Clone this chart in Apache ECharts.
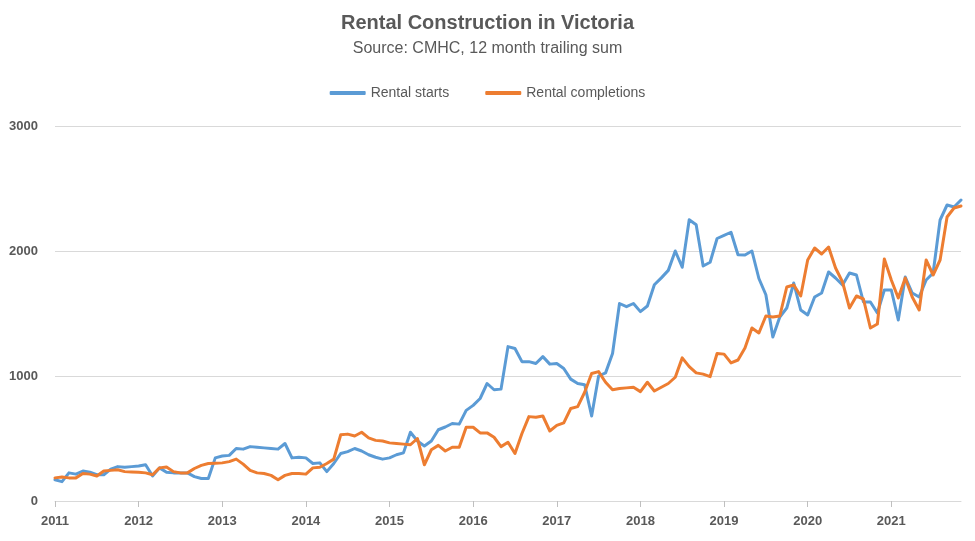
<!DOCTYPE html>
<html>
<head>
<meta charset="utf-8">
<script src="https://cdn.jsdelivr.net/npm/echarts@6/dist/echarts.min.js"></script>
<style>
html,body{margin:0;padding:0;background:#fff;}
#chart{width:975px;height:541px;}
</style>
</head>
<body>
<div id="chart"></div>
<script>
const years = ['2011','2012','2013','2014','2015','2016','2017','2018','2019','2020','2021'];
const monthNames = ['01','02','03','04','05','06','07','08','09','10','11','12'];

const rentalStarts = [
  170, 155, 225, 215, 240, 230, 210, 210, 255, 275, 270, 275,
  280, 290, 200, 265, 230, 225, 225, 225, 195, 180, 180, 345,
  360, 365, 420, 415, 435, 430, 425, 420, 415, 460, 345, 350,
  345, 300, 305, 235, 300, 380, 395, 420, 400, 370, 350, 335,
  345, 370, 385, 550, 480, 440, 480, 570, 592, 620, 615, 725,
  765, 820, 940, 890, 895, 1235, 1220, 1115, 1115, 1100, 1155, 1095,
  1100, 1060, 975, 940, 930, 680, 1000, 1025, 1180, 1580, 1555, 1580,
  1515, 1560, 1730, 1785, 1845, 2000, 1870, 2250, 2210, 1880, 1910, 2100,
  2125, 2150, 1970, 1968, 2000, 1780, 1650, 1312, 1472, 1544, 1744, 1528,
  1488, 1632, 1664, 1832, 1784, 1728, 1824, 1808, 1592, 1592, 1504, 1688,
  1688, 1448, 1792, 1664, 1632, 1768, 1824, 2248, 2368, 2352, 2408
];

const rentalCompletions = [
  185, 192, 185, 185, 220, 215, 200, 240, 245, 250, 235, 232,
  230, 225, 210, 265, 272, 235, 225, 225, 260, 285, 300, 302,
  305, 315, 335, 295, 245, 225, 220, 205, 170, 205, 220, 220,
  215, 265, 270, 300, 335, 530, 535, 520, 550, 505, 485, 480,
  465, 460, 455, 450, 500, 290, 410, 445, 400, 430, 430, 590,
  590, 545, 545, 510, 435, 470, 380, 540, 675, 670, 680, 560,
  605, 625, 740, 755, 870, 1020, 1035, 950, 890, 900, 905, 910,
  875, 950, 880, 910, 940, 990, 1145, 1075, 1025, 1015, 995, 1180,
  1175, 1105, 1128, 1224, 1384, 1344, 1480, 1472, 1480, 1712, 1728, 1640,
  1928, 2024, 1976, 2032, 1864, 1752, 1544, 1640, 1616, 1384, 1416, 1936,
  1768, 1624, 1784, 1632, 1528, 1928, 1808, 1928, 2272, 2344, 2360
];

const categories = [];
for (const y of years) for (const m of monthNames) categories.push(y + '-' + m);
categories.length = rentalStarts.length;

const seriesNames = ['Rental starts', 'Rental completions'];
const colors = ['#5B9BD5', '#ED7D31'];

const chart = echarts.init(document.getElementById('chart'), null, {renderer: 'canvas'});
const fontFam = '"Liberation Sans", Arial, sans-serif';
chart.setOption({
  animation: false,
  backgroundColor: '#ffffff',
  color: colors,
  title: {
    text: 'Rental Construction in Victoria',
    subtext: 'Source: CMHC, 12 month trailing sum',
    left: 'center',
    top: 8,
    itemGap: 8,
    textStyle: {fontFamily: fontFam, fontSize: 20, fontWeight: 'bold', color: '#595959'},
    subtextStyle: {fontFamily: fontFam, fontSize: 16, color: '#595959'}
  },
  legend: {
    data: seriesNames,
    top: 81,
    left: 'center',
    icon: 'roundRect',
    itemWidth: 36,
    itemHeight: 4,
    itemGap: 36,
    textStyle: {fontFamily: fontFam, fontSize: 14, color: '#595959'}
  },
  grid: {left: 55, right: 14, top: 126, bottom: 40, containLabel: false},
  xAxis: {
    type: 'category',
    data: categories,
    boundaryGap: false,
    axisLine: {lineStyle: {color: '#D9D9D9', width: 1}},
    axisTick: {show: true, length: 6, interval: (i) => i % 12 === 0, lineStyle: {color: '#BFBFBF'}},
    axisLabel: {
      interval: (i) => i % 12 === 0,
      formatter: (v) => v.slice(0, 4),
      color: '#595959', fontFamily: fontFam, fontSize: 13, fontWeight: 'bold', margin: 14
    },
    splitLine: {show: false}
  },
  yAxis: {
    type: 'value',
    min: 0, max: 3000, interval: 1000,
    axisLine: {show: false},
    axisTick: {show: false},
    axisLabel: {
      formatter: (v) => String(v),
      color: '#595959', fontFamily: fontFam, fontSize: 13, fontWeight: 'bold', margin: 17
    },
    splitLine: {lineStyle: {color: '#D9D9D9', width: 1}}
  },
  series: [
    {
      name: seriesNames[0], type: 'line', data: rentalStarts,
      showSymbol: false, symbol: 'none',
      lineStyle: {width: 3, color: colors[0], cap: 'round', join: 'round'}
    },
    {
      name: seriesNames[1], type: 'line', data: rentalCompletions,
      showSymbol: false, symbol: 'none',
      lineStyle: {width: 3, color: colors[1], cap: 'round', join: 'round'}
    }
  ]
});
</script>
</body>
</html>
